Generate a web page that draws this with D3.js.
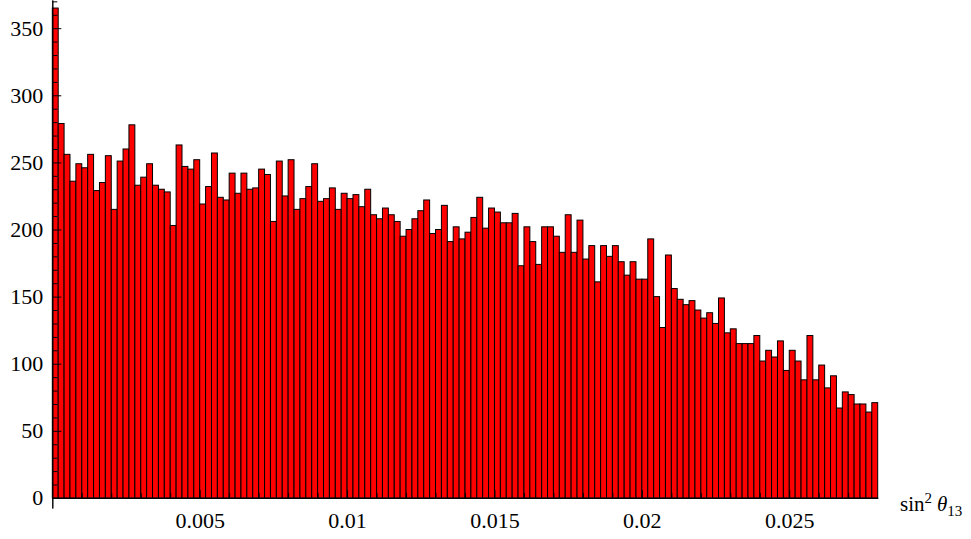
<!DOCTYPE html>
<html>
<head>
<meta charset="utf-8">
<script src="https://cdn.jsdelivr.net/npm/d3@7"></script>
<style>
  body { margin: 0; background: #fff; }
  .axis path, .axis line { stroke: #000; stroke-width: 1; }
</style>
</head>
<body>
<div id="chart"></div>
<script>
// histogram of sin^2 theta13, bins of width 0.0002 starting at 0
var binWidth = 0.0002;
var counts = [
  365, 279, 256, 236, 249, 246, 256, 229, 235, 255, 215, 251, 260, 278, 233, 239, 249, 233, 230, 228, 203, 263, 247, 245,
  252, 219, 232, 257, 224, 222, 242, 227, 242, 230, 231, 245, 241, 206, 251, 225, 252, 215, 223, 232, 249, 221, 223, 231,
  215, 227, 223, 226, 217, 230, 211, 208, 216, 211, 206, 195, 200, 208, 214, 222, 197, 200, 218, 191, 202, 193, 198, 209,
  224, 201, 216, 213, 205, 205, 212, 173, 202, 191, 174, 202, 202, 195, 183, 211, 183, 207, 178, 188, 161, 188, 180, 188, 176,
  166, 176, 163, 163, 193, 150, 127, 181, 156, 148, 144, 147, 140, 134, 138, 130, 149, 123, 126, 115, 115, 115, 121,
  102, 110, 105, 117, 95, 110, 102, 88, 121, 88, 99, 82, 91, 67, 79, 77, 70, 70, 64, 71
];
var xTicks = [0.005, 0.01, 0.015, 0.02, 0.025];
var yTicks = [0, 50, 100, 150, 200, 250, 300, 350];

var serif = "'Liberation Serif', 'Times New Roman', serif";

var graphD = {
  width: 971,
  height: 539,
  left: 52.3,
  right: 877.7,
  top: 0,
  bottom: 508
};

var svg = d3.select("#chart")
            .append("svg")
            .attr("width", graphD.width)
            .attr("height", graphD.height);

var xScale = d3.scaleLinear()
               .domain([0, binWidth * counts.length])
               .range([graphD.left, graphD.right]);

var yScale = d3.scaleLinear()
               .domain([-7.5, 371])
               .range([graphD.bottom, graphD.top]);

// bars
svg.append("g").selectAll("rect")
   .data(counts)
   .enter()
   .append("rect")
   .attr("x", function(d,i){ return xScale(i*binWidth); })
   .attr("width", function(d,i){ return xScale((i+1)*binWidth) - xScale(i*binWidth); })
   .attr("y", function(d){ return yScale(d); })
   .attr("height", function(d){ return yScale(0) - yScale(d); })
   .attr("fill", "#ff0000")
   .attr("stroke", "#000")
   .attr("stroke-width", 1);

// x axis (ticks point up into the plot)
var xMinor = d3.range(1, 28).map(function(k){ return k/1000; })
               .filter(function(v){ return Math.round(v*1000) % 5 != 0; });

svg.append("g")
   .attr("class", "axis")
   .attr("transform", "translate(0," + yScale(0) + ")")
   .call(d3.axisBottom(xScale).tickValues(xMinor).tickSizeInner(-5).tickSizeOuter(0).tickFormat(""));

var xAxis = svg.append("g")
   .attr("class", "axis")
   .attr("transform", "translate(0," + yScale(0) + ")")
   .call(d3.axisBottom(xScale).tickValues(xTicks).tickSizeInner(-8).tickSizeOuter(0)
           .tickFormat(function(d){ return String(+d.toFixed(3)); }));
xAxis.attr("font-family", serif).attr("font-size", 22);
xAxis.selectAll("text").attr("y", 30).attr("dy", null).attr("fill", "#000");

// y axis (ticks point right into the plot)
var yMinor = d3.range(10, 371, 10).filter(function(v){ return v % 50 != 0; });

svg.append("g")
   .attr("class", "axis")
   .attr("transform", "translate(" + graphD.left + ",0)")
   .call(d3.axisLeft(yScale).tickValues(yMinor).tickSizeInner(-5).tickSizeOuter(0).tickFormat(""));

var yAxis = svg.append("g")
   .attr("class", "axis")
   .attr("transform", "translate(" + graphD.left + ",0)")
   .call(d3.axisLeft(yScale).tickValues(yTicks).tickSizeInner(-9).tickSizeOuter(0).tickPadding(9));
yAxis.attr("font-family", serif).attr("font-size", 22);
yAxis.selectAll("text").attr("fill", "#000");

// axis label: sin^2 theta_13
var lbl = svg.append("text")
             .attr("x", 900)
             .attr("y", 511)
             .attr("font-family", serif)
             .attr("font-size", 21)
             .attr("fill", "#000");
lbl.append("tspan").text("sin");
lbl.append("tspan").attr("font-size", 15).attr("dy", -8).text("2");
lbl.append("tspan").attr("dy", 8).attr("dx", 5).attr("font-style", "italic").text("θ");
lbl.append("tspan").attr("font-size", 15).attr("dy", 5).text("13");
</script>
</body>
</html>
